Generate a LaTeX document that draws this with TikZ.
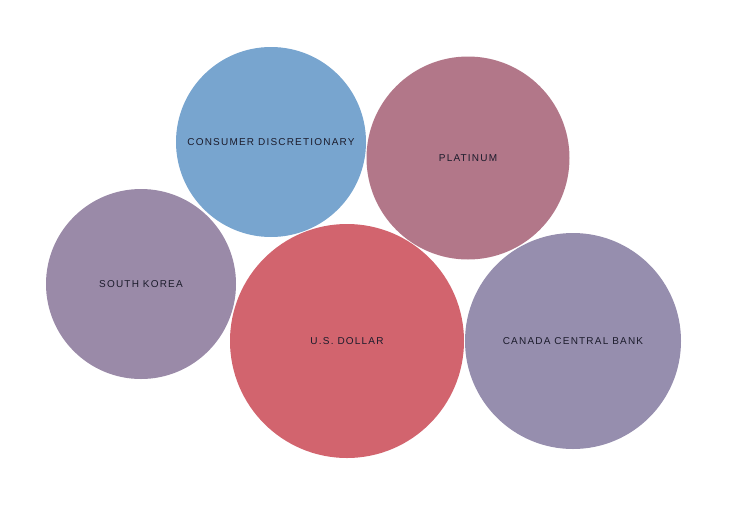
\documentclass[tikz,border=0pt]{standalone}
\usepackage{fontspec}
\setmainfont{Liberation Sans}[LetterSpace=12]
\definecolor{cblue}{HTML}{78A5CF}
\definecolor{cplat}{HTML}{B27789}
\definecolor{csk}{HTML}{9A8AA8}
\definecolor{cusd}{HTML}{D2646E}
\definecolor{ccan}{HTML}{968EAE}
\definecolor{ctext}{HTML}{1C1C2C}
\begin{document}
\begin{tikzpicture}[x=1pt,y=-1pt,
  bubble/.style={circle,inner sep=0pt,text=ctext,font=\fontsize{10}{12}\selectfont}]
\useasboundingbox (0,0) rectangle (750,520);
\node[bubble,fill=cblue,minimum size=190pt] (cd) at (271,142) {CONSUMER DISCRETIONARY};
\node[bubble,fill=cplat,minimum size=203pt] (pt) at (468,158) {PLATINUM};
\node[bubble,fill=csk,minimum size=190pt] (sk) at (141,284) {SOUTH KOREA};
\node[bubble,fill=cusd,minimum size=234pt] (usd) at (347,341) {U.S. DOLLAR};
\node[bubble,fill=ccan,minimum size=216pt] (can) at (573,341) {CANADA CENTRAL BANK};
\end{tikzpicture}
\end{document}
